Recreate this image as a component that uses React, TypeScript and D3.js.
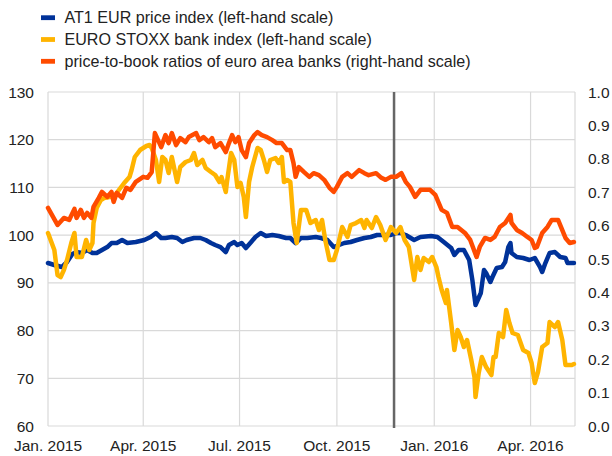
import React from "react";
import * as d3 from "d3";

const startDate = new Date(2015, 0, 1);
const endDate = new Date(2016, 4, 13);
const markerDate = new Date(2015, 10, 24);

// observation dates given as days after 1 Jan 2015
const at1Days = [
  0, 6, 13, 18, 23, 27, 32, 37, 42, 46, 51, 56, 60, 65, 70, 75, 83, 91, 97, 102,
  107, 111, 117, 122, 127, 131, 138, 144, 149, 154, 158, 163, 168, 171, 176, 179, 183, 187, 192, 196,
  201, 206, 212, 218, 225, 229, 234, 239, 245, 253, 258, 264, 270, 275, 280, 286, 292, 299, 305, 311,
  318, 324, 329, 333, 338, 346, 352, 362, 368, 374, 381, 384, 388, 393, 398, 401, 404, 409, 412, 414,
  418, 420, 424, 429, 432, 435, 437, 438, 443, 449, 455, 460, 465, 467, 470, 474, 479, 484, 489, 491, 497,
];
const at1Values = [
  94.16, 93.74, 93.32, 94.37, 96.04, 96.46, 96.25, 96.88, 96.25, 96.25, 96.88, 97.51, 98.35, 98.35, 98.98, 98.35, 98.56, 98.98, 99.61, 100.45,
  99.4, 99.4, 99.61, 99.4, 98.56, 98.98, 99.4, 99.4, 98.98, 98.35, 97.93, 97.51, 96.46, 97.93, 98.56, 97.93, 98.35, 97.3, 98.56, 99.61,
  100.45, 99.82, 100.03, 99.82, 99.4, 99.4, 98.35, 99.4, 99.4, 99.61, 99.4, 98.98, 97.51, 97.93, 98.35, 98.56, 98.98, 99.4, 99.61, 100.03,
  100.03, 100.03, 100.45, 100.45, 100.03, 98.98, 99.61, 99.82, 99.61, 98.56, 97.3, 95.84, 96.88, 96.88, 94.79, 90.6, 85.36, 87.87, 92.69, 92.06,
  90.18, 91.22, 93.11, 93.32, 94.37, 97.51, 98.35, 96.25, 95.42, 95.21, 94.79, 95.21, 93.32, 92.27, 94.16, 96.25, 96.46, 95.42, 95.21, 94.16, 94.16,
];

const stoxxDays = [
  0, 6, 9, 12, 15, 18, 22, 25, 27, 32, 36, 39, 42, 43, 46, 50, 53, 58, 62, 67,
  72, 77, 79, 82, 87, 93, 96, 98, 102, 105, 108, 111, 114, 117, 122, 125, 130, 135, 138, 141,
  146, 149, 154, 158, 162, 164, 168, 169, 173, 176, 179, 182, 185, 187, 190, 193, 198, 201, 204, 207,
  210, 215, 218, 221, 223, 226, 229, 232, 235, 239, 244, 248, 253, 256, 259, 262, 266, 270, 273, 278,
  283, 286, 291, 296, 299, 301, 306, 310, 314, 319, 324, 329, 333, 337, 341, 346, 349, 352, 355, 360,
  363, 367, 369, 372, 376, 377, 381, 384, 387, 390, 393, 396, 400, 403, 404, 407, 410, 414, 419, 421,
  423, 426, 430, 433, 436, 439, 444, 449, 454, 457, 460, 463, 467, 472, 474, 479, 482, 486, 489, 495, 497,
];
const stoxxValues = [
  100.45, 96.88, 91.64, 91.22, 92.69, 94.79, 98.35, 100.45, 95.42, 95.42, 98.98, 96.88, 98.35, 102.54, 105.69, 107.36, 107.78, 107.99, 107.99, 109.46,
  110.93, 112.18, 113.65, 116.38, 117.84, 118.68, 118.89, 118.26, 115.75, 111.14, 116.38, 115.75, 113.02, 116.38, 111.14, 114.28, 115.33, 115.75, 117.21, 114.7,
  115.75, 114.07, 113.23, 112.6, 111.14, 112.18, 109.04, 110.93, 117.21, 115.75, 110.09, 110.93, 107.99, 103.8, 111.14, 114.28, 118.26, 117.84, 115.75, 113.23,
  115.75, 116.17, 115.12, 116.38, 111.14, 111.56, 111.14, 102.54, 98.35, 105.27, 105.27, 102.54, 103.17, 101.08, 103.17, 98.98, 94.79, 94.79, 96.88, 101.7,
  99.61, 102.12, 102.54, 103.17, 101.49, 103.17, 101.49, 103.8, 102.12, 98.98, 101.7, 100.45, 101.7, 98.98, 97.51, 90.6, 95.42, 92.69, 95.21, 94.37,
  95.42, 93.32, 91.22, 88.5, 85.78, 88.5, 81.58, 75.92, 80.12, 78.65, 76.55, 78.02, 73.83, 70.26, 66.07, 71.1, 74.46, 72.36, 70.68, 74.46,
  74.46, 79.49, 78.65, 84.31, 81.58, 79.49, 79.07, 75.92, 75.29, 73.2, 69.01, 71.31, 76.55, 77.39, 81.79, 80.74, 81.79, 78.02, 72.78, 72.78, 72.99,
];

const pbDays = [
  0, 9, 15, 20, 25, 27, 31, 34, 37, 41, 43, 48, 51, 56, 60, 62, 65, 70, 74, 78,
  83, 90, 94, 98, 101, 107, 111, 114, 117, 121, 125, 130, 133, 140, 143, 147, 152, 155, 158, 163,
  168, 171, 174, 177, 180, 183, 187, 190, 195, 198, 202, 207, 212, 216, 221, 226, 229, 232, 234, 237,
  242, 247, 251, 256, 261, 266, 270, 273, 278, 283, 287, 294, 299, 303, 310, 315, 319, 324, 329, 334,
  338, 342, 347, 352, 356, 361, 366, 372, 377, 382, 387, 394, 399, 405, 408, 413, 418, 422, 427, 432,
  437, 438, 443, 448, 453, 457, 460, 462, 467, 472, 476, 482, 489, 493, 497,
];
const pbValues = [
  0.653, 0.602, 0.623, 0.617, 0.65, 0.623, 0.647, 0.623, 0.638, 0.623, 0.656, 0.683, 0.701, 0.686, 0.701, 0.671, 0.698, 0.683, 0.713, 0.707,
  0.731, 0.746, 0.743, 0.76, 0.877, 0.835, 0.871, 0.847, 0.877, 0.841, 0.862, 0.85, 0.865, 0.877, 0.856, 0.865, 0.85, 0.862, 0.835, 0.847,
  0.82, 0.847, 0.871, 0.85, 0.865, 0.826, 0.805, 0.847, 0.871, 0.88, 0.871, 0.865, 0.856, 0.847, 0.847, 0.826, 0.826, 0.787, 0.746, 0.775,
  0.76, 0.746, 0.757, 0.751, 0.737, 0.713, 0.701, 0.716, 0.746, 0.757, 0.746, 0.766, 0.757, 0.751, 0.757, 0.743, 0.737, 0.746, 0.746, 0.757,
  0.731, 0.716, 0.686, 0.707, 0.707, 0.707, 0.692, 0.647, 0.638, 0.596, 0.596, 0.578, 0.557, 0.506, 0.536, 0.563, 0.557, 0.566, 0.596, 0.608,
  0.632, 0.608, 0.587, 0.578, 0.566, 0.557, 0.533, 0.536, 0.578, 0.596, 0.617, 0.617, 0.563, 0.548, 0.551,
];

const leftTicks = [60, 70, 80, 90, 100, 110, 120, 130];
const rightTicks = [0, 0.1, 0.2, 0.3, 0.4, 0.5, 0.6, 0.7, 0.8, 0.9, 1.0];
const xTickDates = [
  new Date(2015, 0, 1),
  new Date(2015, 3, 1),
  new Date(2015, 6, 1),
  new Date(2015, 9, 1),
  new Date(2016, 0, 1),
  new Date(2016, 3, 1),
];
const xTickLabels = ["Jan. 2015", "Apr. 2015", "Jul. 2015", "Oct. 2015", "Jan. 2016", "Apr. 2016"];

const legendItems = [
  { label: "AT1 EUR price index (left-hand scale)", color: "#003299" },
  { label: "EURO STOXX bank index (left-hand scale)", color: "#FFB400" },
  { label: "price-to-book ratios of euro area banks (right-hand scale)", color: "#FF4B00" },
];

const W = 612;
const H = 456;
const L = 48;
const R = 575;
const T = 92;
const B = 426;
const FONT = "'Liberation Sans', Arial, sans-serif";

type Pt = { date: Date; value: number };
const toPoints = (days: number[], values: number[]): Pt[] =>
  values.slice(0, days.length).map((v, i) => ({ date: d3.timeDay.offset(startDate, days[i]), value: v }));

export default function App() {
  const x = d3.scaleTime().domain([startDate, endDate]).range([L, R]);
  const yL = d3.scaleLinear().domain([60, 130]).range([B, T]);
  const yR = d3.scaleLinear().domain([0, 1]).range([B, T]);

  const lineL = d3
    .line<Pt>()
    .x((d) => x(d.date))
    .y((d) => yL(d.value));
  const lineR = d3
    .line<Pt>()
    .x((d) => x(d.date))
    .y((d) => yR(d.value));

  const at1 = toPoints(at1Days, at1Values);
  const stoxx = toPoints(stoxxDays, stoxxValues);
  const pb = toPoints(pbDays, pbValues);

  const grid = "#d9d9d9";

  return (
    <svg
      width={W}
      height={H}
      style={{ position: "fixed", left: 0, top: 0, background: "#fff" }}
      fontFamily={FONT}
    >
      <rect x={0} y={0} width={W} height={H} fill="#fff" />
      {legendItems.map((it, i) => (
        <g key={it.label}>
          <rect x={41} y={15.3 + i * 21.8} width={14} height={4.8} fill={it.color} />
          <text x={64.5} y={17.7 + i * 21.8} dy="0.35em" fontSize={16.1} fill="#222">
            {it.label}
          </text>
        </g>
      ))}
      {leftTicks.map((t) => (
        <line key={"h" + t} x1={L} x2={R} y1={yL(t)} y2={yL(t)} stroke={grid} strokeWidth={1.2} />
      ))}
      {xTickDates.map((d, i) => (
        <line key={"v" + i} x1={x(d)} x2={x(d)} y1={T} y2={B} stroke={grid} strokeWidth={1.2} />
      ))}
      <line x1={R} x2={R} y1={T} y2={B} stroke={grid} strokeWidth={1.2} />
      {leftTicks.map((t) => (
        <text key={"lt" + t} x={34} y={yL(t)} dy="0.36em" textAnchor="end" fontSize={15.5} fill="#222">
          {t}
        </text>
      ))}
      {rightTicks.map((t) => (
        <text key={"rt" + t} x={588} y={yR(t)} dy="0.36em" textAnchor="start" fontSize={15.5} fill="#222">
          {t.toFixed(1)}
        </text>
      ))}
      {xTickDates.map((d, i) => (
        <text key={"xt" + i} x={x(d)} y={445.5} dy="0.36em" textAnchor="middle" fontSize={15.5} fill="#222">
          {xTickLabels[i]}
        </text>
      ))}
      <line x1={x(markerDate)} x2={x(markerDate)} y1={T} y2={B + 2} stroke="#666" strokeWidth={2.5} />
      <path d={lineL(at1) || ""} fill="none" stroke="#003299" strokeWidth={4.5} strokeLinejoin="round" strokeLinecap="round" />
      <path d={lineL(stoxx) || ""} fill="none" stroke="#FFB400" strokeWidth={4.5} strokeLinejoin="round" strokeLinecap="round" />
      <path d={lineR(pb) || ""} fill="none" stroke="#FF4B00" strokeWidth={4.5} strokeLinejoin="round" strokeLinecap="round" />
    </svg>
  );
}
